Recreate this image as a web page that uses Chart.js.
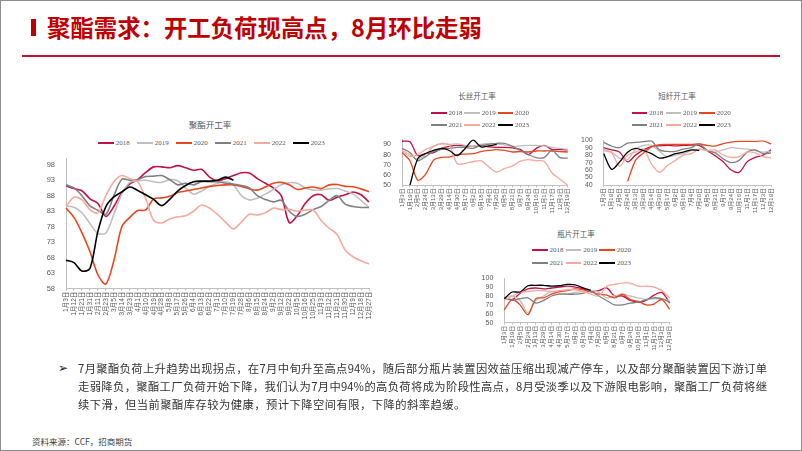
<!DOCTYPE html>
<html>
<head>
<meta charset="utf-8">
<script src="https://cdn.jsdelivr.net/npm/chart.js@4.4.0/dist/chart.umd.min.js"></script>
<style>
html,body{margin:0;padding:0;background:#fff}
#page{position:relative;width:802px;height:451px;overflow:hidden;background:#fff;box-sizing:border-box;border:1px solid #8c8c8c;font-family:'Noto Sans CJK SC','Noto Sans',sans-serif}
#page canvas{position:absolute}
.bar{position:absolute;left:30px;top:18px;width:5px;height:17px;background:#C00000}
.ttl{position:absolute;left:46px;top:10px;font-size:23.4px;line-height:32px;font-weight:700;color:#C00000;white-space:nowrap}
.rule{position:absolute;left:21px;top:53.5px;width:758px;height:2px;background:#C8102E}
.ct{position:absolute;transform:translate(-50%,-50%);white-space:nowrap;color:#595959}
.lg{position:absolute;height:2px;width:15.5px}
.lt{position:absolute;font-family:'Liberation Serif',serif;font-size:7px;color:#595959;transform:translateY(-50%);line-height:8px}
.tx{position:absolute;left:77px;width:689px;font-size:11.3px;line-height:18px;color:#333;white-space:nowrap}
.just{text-align:justify;text-align-last:justify;white-space:normal;height:18px;overflow:hidden}
.bul{position:absolute;left:57px;top:358px;font-family:'DejaVu Sans';font-size:12px;line-height:18px;color:#222}
.src{position:absolute;left:31px;top:434px;font-size:8.5px;line-height:12px;color:#404040;white-space:nowrap}
</style>
</head>
<body>
<div id="page">
<div class="bar"></div>
<div class="ttl">聚酯需求：开工负荷现高点，8月环比走弱</div>
<div class="rule"></div>

<div class="ct" style="left:209px;top:123.3px;font-size:8.5px">聚酯开工率</div>
<div class="ct" style="left:476px;top:94px;font-size:7.5px">长丝开工率</div>
<div class="ct" style="left:676px;top:94px;font-size:7.5px">短纤开工率</div>
<div class="ct" style="left:575px;top:231.7px;font-size:7.5px">瓶片开工率</div>

<canvas id="cMain" width="360" height="180" style="left:25px;top:150px"></canvas>
<canvas id="cFil" width="200" height="90" style="left:375px;top:130px"></canvas>
<canvas id="cPsf" width="205" height="88" style="left:575px;top:132px"></canvas>
<canvas id="cPet" width="205" height="90" style="left:475px;top:270px"></canvas>

<div class="bul">➢</div>
<div class="tx just" style="top:358px">7月聚酯负荷上升趋势出现拐点，在7月中旬升至高点94%，随后部分瓶片装置因效益压缩出现减产停车，以及部分聚酯装置因下游订单</div>
<div class="tx just" style="top:376px">走弱降负，聚酯工厂负荷开始下降，我们认为7月中94%的高负荷将成为阶段性高点，8月受淡季以及下游限电影响，聚酯工厂负荷将继</div>
<div class="tx" style="top:394px;letter-spacing:0.45px">续下滑，但当前聚酯库存较为健康，预计下降空间有限，下降的斜率趋缓。</div>
<div class="src">资料来源：CCF，招商期货</div>
</div>

<script>
// 年份与颜色
let anos=['2018','2019','2020','2021','2022','2023']
let cores=['#C21146','#BFBFBF','#E8461E','#808080','#F7A99B','#000000']

// 聚酯开工率
let rotulosMain=['1月3日','1月12日','1月21日','1月31日','2月11日','2月23日','3月5日','3月14日','3月23日','4月1日','4月10日','4月19日','4月28日','5月8日','5月17日','5月26日','6月4日','6月13日','6月22日','7月1日','7月10日','7月19日','7月28日','8月6日','8月15日','8月24日','9月2日','9月12日','9月22日','10月5日','10月16日','10月25日','11月3日','11月12日','11月21日','11月30日','12月9日','12月18日','12月27日']
let main2018=[91.2,90.3,89.6,87,85.5,81.3,84.5,89,91.8,93.2,95.5,97.3,97.3,97,97.7,97,96.2,96.5,94,92.8,93.5,94.5,95.4,95.3,93.5,92,90.5,88,79.3,81.5,85.5,88,88.3,86.5,87.5,88.3,89.2,88.3,86]
let main2019=[84.7,84.3,82.5,79,75.8,76,82,88.5,92.3,92.8,93,92.5,92.3,93.2,92.8,90.5,88.5,89.5,91,92,92.5,91.5,88,86.6,87.2,88.5,90,91.5,92.2,92,90.5,89.8,89.8,90.2,90.3,89.5,88.5,86.5,84.2]
let main2020=[84,81,76,70,62.5,59.5,67,78,81,83.2,83.4,87,87.3,87.8,89,89.5,90,90.5,91,91.3,91.5,91.5,91,90.2,89.8,90.8,92,92.3,91.5,90,90.5,90.8,90.3,91.5,91.6,91,90.9,90.2,89.3]
let main2021=[91.5,90.5,88,84.7,83.3,82,88,93.3,93,93.2,94.2,94.3,94.5,93.2,91.5,92,91.5,92.5,92.5,92.5,92,91.8,91.3,90.5,88,86.8,86,86.5,83,81.3,82,83.5,84.5,86.5,88,85.3,84.5,84.2,84.2]
let main2022=[84.5,87.5,86.7,83.5,82.5,88,92.5,94.5,93.5,92.5,87,80,79.2,80.5,81.2,81.5,83,85,84,82,79.5,77.3,79.5,82,81.8,82.5,84,83.5,83.6,83,83.4,83.4,80,77.5,75.5,70.5,68.3,67,66]
let main2023=[67.2,66.4,63.7,64.5,76.5,84.5,87.6,89.2,90.8,89.7,88.3,86.8,84.8,86.8,89.5,91.3,92.5,92.7,92.7,93,94,93]
let ticksMain=[58,63,68,73,78,83,88,93,98]

// 小图共用日期
let rotulosPeq=['1月3日','1月19日','2月5日','2月24日','3月13日','3月29日','4月14日','4月30日','5月17日','6月2日','6月18日','7月4日','7月20日','8月5日','8月21日','9月7日','9月24日','10月16日','11月1日','11月17日','12月3日','12月19日']

// 长丝开工率
let fil2018=[93,92.5,79,81,82,86,88,89,88.5,88,89,87.5,87,87,86.5,85,80,86,89,85,85,84.5]
let fil2019=[84,80,75.5,80,88,91,90,90.5,89,88,90,91,90.5,89.5,88,88.5,89,89,88.5,87,86,85]
let fil2020=[82,74,55,61,74.5,77.3,77.6,80,80.5,81,82.8,84,84.8,84,82.5,83,82.5,83.5,83.5,83.5,83,82.5]
let fil2021=[86,82,74,78,83,85,86,87,87,86,89,90,91,91,88,84,80,77,77,84,77,76.5]
let fil2022=[84,78,80,85,88,90.5,89,71,71.5,73,74,68,63,66.5,69,73.5,75,74,73.5,62,56,50]
let fil2023=[null,50,76,81,84,86,84,79,86,94,87.5,88.5,90]
let ticksFil=[50,60,70,80,90]

// 短纤开工率
let psf2018=[90,87,84,71,80,87,91.5,92.5,93,92.5,93,93.5,93,86,79,71,60,57,71,77,80,87]
let psf2019=[88,84,76,74,88,93,93,85,78,80,82,86,88,86,84,87,90,89,88,86,84,85]
let psf2020=[null,null,null,45,73,83,91,94,94.5,94.5,94.5,94.5,95,93,92,95.5,97.5,98.5,98.5,98.5,99,95]
let psf2021=[97,92,90,96,97,98,99,87,85,85,88,90,95,86,83,75,70,73,84,87,82,83]
let psf2022=[86,83,65,80,84,88,68,57,66,73,80,82,88,86,87,80,77,78,84,83,78,76]
let psf2023=[82,61,71,84,89,86,82,76,78,82,84,87,86.5]
let ticksPsf=[40,50,60,70,80,90,100]

// 瓶片开工率
let pet2018=[78,76,83,88,89,88,89,90,91,90,88,85,86,89,80,80,75,73,75,81,84,72]
let pet2019=[78,80,75,61,75,80,85,83,82,84,85,86,84,78,80,82,80,78,76,77,76,75]
let pet2020=[64.5,76,70,59,77,78,82,85,86,88,87,85,82,81,78,82,76,74,70,71,76,65]
let pet2021=[78,75,77,78,72,75,80,82,82,82,83,85,80,75,70,70,72,73,76,78,77,73]
let pet2022=[75,80,84,85,86,86,85,86,87,87,85,82,80,91,93,94.5,94.5,91,91,90,86,78]
let pet2023=[77,84.5,84.5,91.5,92,92,91,91.5,93,92.5,89,86.5]
let ticksPet=[50,60,70,80,90,100]

let fonteEixo="'Liberation Sans','Noto Sans CJK SC',sans-serif"

function desenhar(id,rotulos,series,ymin,ymax,yticks,g){

new Chart(document.getElementById(id),{
type:'line',
data:{
labels:rotulos,
datasets:series.map((d,k)=>({
label:anos[k],
data:d,
borderColor:cores[k],
backgroundColor:cores[k],
borderWidth:g.lw,
pointRadius:0,
tension:0.3,
fill:false,
order:5-k
}))
},
options:{
responsive:false,
animation:false,
layout:{padding:{left:0,right:g.pr,top:g.pt,bottom:0}},
plugins:{legend:{display:false},tooltip:{enabled:false},title:{display:false}},
scales:{
x:{
ticks:{autoSkip:false,minRotation:90,maxRotation:90,color:'#595959',font:{size:g.xf,family:fonteEixo},padding:1},
grid:{display:true,drawOnChartArea:false,tickLength:2,color:'#BFBFBF'},
border:{display:true,color:'#BFBFBF',width:1},
afterFit:s=>{s.height=g.xh}
},
y:{
min:ymin,
max:ymax,
ticks:{autoSkip:false,color:'#595959',font:{size:g.yf,family:fonteEixo},padding:3},
grid:{display:false},
border:{display:true,color:'#BFBFBF',width:1},
afterBuildTicks:s=>{s.ticks=yticks.map(v=>({value:v}))},
afterFit:s=>{s.width=g.yw}
}
}
}
})

}

function legenda(x0,y0,dx,dy,porLinha){

let pg=document.getElementById('page')

anos.forEach((a,k)=>{
let x=x0+(k%porLinha)*dx
let y=y0+Math.floor(k/porLinha)*dy
let l=document.createElement('div')
l.className='lg'
l.style.left=x+'px'
l.style.top=(y-1)+'px'
l.style.background=cores[k]
pg.appendChild(l)
let t=document.createElement('div')
t.className='lt'
t.style.left=(x+17.5)+'px'
t.style.top=y+'px'
t.textContent=a
pg.appendChild(t)
})

}

desenhar('cMain',rotulosMain,[main2018,main2019,main2020,main2021,main2022,main2023],58,100,ticksMain,{yw:40,xh:42.3,pr:17,pt:6.5,lw:1.6,xf:6.5,yf:7.5})
desenhar('cFil',rotulosPeq,[fil2018,fil2019,fil2020,fil2021,fil2022,fil2023],50,95,ticksFil,{yw:26,xh:35.7,pr:8,pt:8.2,lw:1.3,xf:6,yf:7})
desenhar('cPsf',rotulosPeq,[psf2018,psf2019,psf2020,psf2021,psf2022,psf2023],40,100,ticksPsf,{yw:27.7,xh:36,pr:10,pt:6.7,lw:1.3,xf:6,yf:7})
desenhar('cPet',rotulosPeq,[pet2018,pet2019,pet2020,pet2021,pet2022,pet2023],50,100,ticksPet,{yw:28.3,xh:38.3,pr:11.3,pt:6.7,lw:1.3,xf:6,yf:7})

legenda(97.3,141.7,39,0,6)
legenda(430,112.3,33.3,12,3)
legenda(630.7,112.3,33.8,12,3)
legenda(531,249.3,33.7,12.4,3)
</script>
</body>
</html>
